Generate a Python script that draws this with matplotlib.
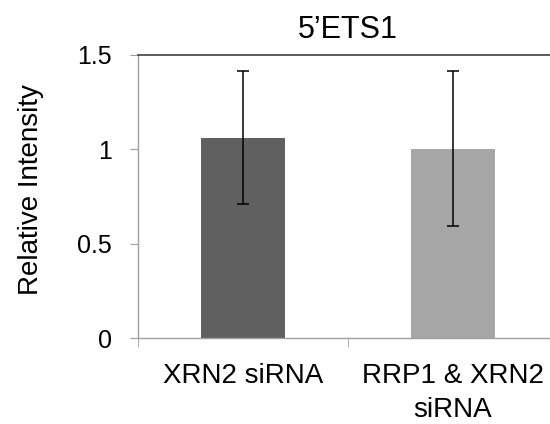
import matplotlib
matplotlib.use("Agg")
import matplotlib.pyplot as plt
from matplotlib.ticker import FixedLocator

plt.rcParams['font.family'] = ['Liberation Sans', 'DejaVu Sans']

categories = ["XRN2 siRNA", "RRP1 & XRN2\nsiRNA"]
values = [1.062, 1.004]
errors = [0.353, 0.412]
colors = ["#606060", "#a6a6a6"]
title = "5\u2019ETS1"
ylabel = "Relative Intensity"
yticks = [0, 0.5, 1, 1.5]
ytick_labels = ["0", "0.5", "1", "1.5"]

W, H = 550, 424
fig = plt.figure(figsize=(W/100, H/100), dpi=100)
left, right, top, bottom = 138, 558, 55, 338
ax = fig.add_axes([left/W, 1-bottom/H, (right-left)/W, (bottom-top)/H])

x = list(range(len(categories)))
ax.bar(x, values, width=0.4, color=colors, zorder=2)
ax.errorbar(x, values, yerr=errors, fmt='none', ecolor='black', elinewidth=1.1,
            capsize=4, capthick=1.1, zorder=3)

ax.set_xlim(-0.5, len(categories) - 0.5)
ax.set_ylim(0, 1.5)
ax.axhline(1.5, color='#404040', lw=1.2, zorder=4, clip_on=False)

for s in ['top', 'right']:
    ax.spines[s].set_visible(False)
for s in ['left', 'bottom']:
    ax.spines[s].set_color('#a0a0a0')
    ax.spines[s].set_linewidth(1.0)

ax.set_yticks(yticks)
ax.set_yticklabels(ytick_labels, fontsize=18)
ax.tick_params(axis='y', length=6, color='#a0a0a0', pad=13)

ax.set_xticks(x)
ax.set_xticklabels(categories, fontsize=20, linespacing=1.42)
ax.tick_params(axis='x', which='major', length=0, pad=18)
ax.xaxis.set_minor_locator(FixedLocator([-0.5, 0.5, 1.5]))
ax.tick_params(axis='x', which='minor', length=6.5, color='#a0a0a0')

ax.set_ylabel(ylabel, fontsize=20)
ax.yaxis.set_label_coords(-(left-44)/(right-left), 0.525)
ax.set_title(title, fontsize=22, pad=12)

fig.savefig("out.png", dpi=100)
